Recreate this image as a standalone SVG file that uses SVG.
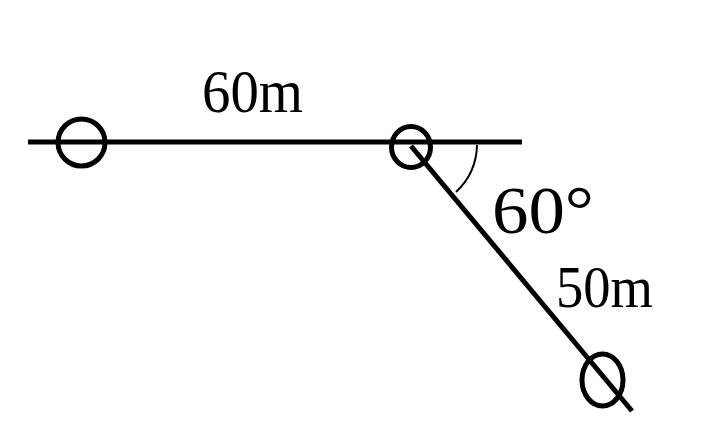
<svg xmlns="http://www.w3.org/2000/svg" width="718" height="448" viewBox="0 0 718 448">
<style>
.ln{stroke:#000;stroke-width:5;fill:none}
.pt{stroke:#000;stroke-width:5;fill:none}
.arc{stroke:#000;stroke-width:2;fill:none}
.lb{font-family:"Liberation Serif","Times New Roman",serif;fill:#000}
</style>
<rect width="718" height="448" fill="#fff"/>
<g id="connectors">
<line class="ln" x1="28" y1="142" x2="522" y2="142"/>
<line class="ln" x1="411" y1="146" x2="632" y2="411"/>
<path class="arc" d="M477 145 A66 66 0 0 1 456 192"/>
</g>
<g id="node1"><ellipse class="pt" cx="81.5" cy="142.5" rx="23.5" ry="23.5"/></g>
<g id="node2"><ellipse class="pt" cx="411" cy="147" rx="19.5" ry="20.5"/></g>
<g id="node3"><ellipse class="pt" cx="602.5" cy="380" rx="20.5" ry="26"/></g>
<g id="labels">
<text class="lb" x="202" y="112" font-size="62" textLength="101" lengthAdjust="spacingAndGlyphs">60m</text>
<text class="lb" x="492" y="233" font-size="68" textLength="102" lengthAdjust="spacingAndGlyphs">60°</text>
<text class="lb" x="556" y="307" font-size="60" textLength="97" lengthAdjust="spacingAndGlyphs">50m</text>
</g>
</svg>
